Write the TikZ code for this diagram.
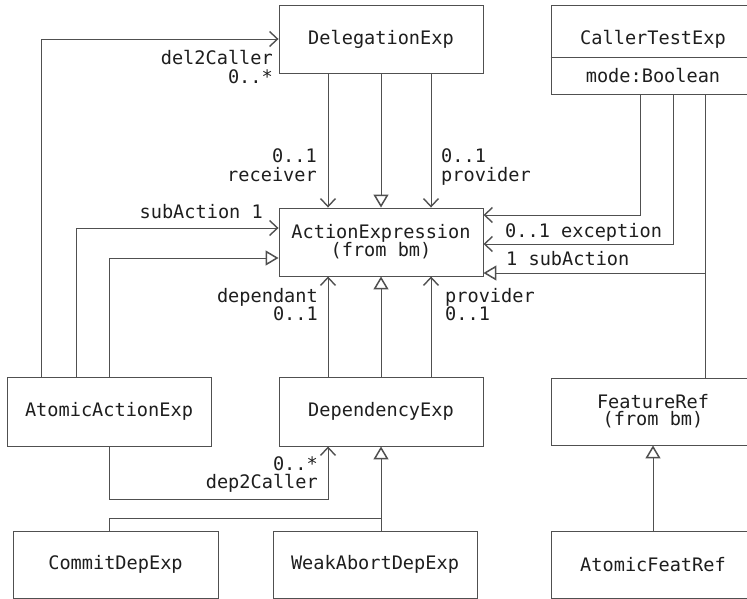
\documentclass[tikz,border=0pt]{standalone}
\usepackage{fontspec}
\setmonofont{DejaVu Sans Mono}
\usetikzlibrary{arrows.meta}
\definecolor{linec}{HTML}{505050}
\definecolor{textc}{HTML}{1E1E1E}
\newcommand{\umlfont}{\ttfamily\fontsize{18.6}{18}\selectfont}

\begin{document}
\begin{tikzpicture}[x=1pt,y=-1pt,
  cls/.style={draw=linec, line width=0.9pt, minimum width=204pt,
    minimum height=68pt, inner sep=0pt, align=center, text=textc,
    font=\umlfont},
  conn/.style={draw=linec, line width=0.9pt},
  assoc/.style={conn, -{Straight Barb[length=8pt,width=15pt,line width=1.4pt]}},
  gen/.style={conn, -{Triangle[open,length=13pt,width=15pt,line width=1.5pt]}},
  lbl/.style={inner sep=0pt, text=textc, font=\umlfont}]
\useasboundingbox (0,0) rectangle (747,599);

% classes
\node[cls] (del) at (381,39) {DelegationExp};
\node[cls, minimum height=89pt] (caller) at (653,49.5) {};
\draw[conn] (caller.west |- 0,57) -- (caller.east |- 0,57);
\node[lbl, anchor=base] (callername) at (653,45) {CallerTestExp};
\node[lbl, anchor=base] (callerattr) at (653,83) {mode:Boolean};
\node[cls] (act) at (381,242) {ActionExpression\\[-1pt](from bm)};
\node[cls, minimum height=69pt] (aae) at (109,411.5) {AtomicActionExp};
\node[cls, minimum height=69pt] (dep) at (381,411.5) {DependencyExp};
\node[cls, minimum height=67pt] (feat) at (653,411.5) {FeatureRef\\[-1pt](from bm)};
\node[cls, minimum width=205pt, minimum height=67.5pt] (commit) at (115.5,564.75) {CommitDepExp};
\node[cls, minimum height=67.5pt] (weak) at (375,564.75) {WeakAbortDepExp};
\node[cls, minimum height=67.5pt] (afr) at (653,564.75) {AtomicFeatRef};

% DelegationExp to ActionExpression
\draw[assoc] (del.south -| 328,0) -- (act.north -| 328,0);
\draw[gen] (del.south) -- (act.north);
\draw[assoc] (del.south -| 431,0) -- (act.north -| 431,0);
\node[lbl, anchor=base east] (l1a) at (317,163) {0..1};
\node[lbl, anchor=base east] (l1b) at (317,182) {receiver};
\node[lbl, anchor=base west] (l2a) at (441,163) {0..1};
\node[lbl, anchor=base west] (l2b) at (441,182) {provider};

% AtomicActionExp links
\draw[assoc] (aae.north -| 41,0) |- (del.west);
\node[lbl, anchor=base east] (l3a) at (273,65) {del2Caller};
\node[lbl, anchor=base east] (l3b) at (273,84) {0..*};
\draw[assoc] (aae.north -| 76,0) |- (act.west |- 0,228);
\node[lbl, anchor=base east] (l4) at (263,218) {subAction 1};
\draw[gen] (aae.north) |- (act.west |- 0,258);
\draw[assoc] (aae.south) |- (328,499) -- (dep.south -| 328,0);
\node[lbl, anchor=base east] (l5a) at (318,470) {0..*};
\node[lbl, anchor=base east] (l5b) at (318,488) {dep2Caller};

% DependencyExp to ActionExpression
\draw[assoc] (dep.north -| 328,0) -- (act.south -| 328,0);
\draw[gen] (dep.north) -- (act.south);
\draw[assoc] (dep.north -| 431,0) -- (act.south -| 431,0);
\node[lbl, anchor=base east] (l6a) at (318,302) {dependant};
\node[lbl, anchor=base east] (l6b) at (318,320) {0..1};
\node[lbl, anchor=base west] (l7a) at (445,302) {provider};
\node[lbl, anchor=base west] (l7b) at (445,320) {0..1};

% subclasses of DependencyExp
\draw[gen] (weak.north -| dep.south) -- (dep.south);
\draw[conn] (commit.north -| 109,0) |- (381,518);

% CallerTestExp links
\draw[assoc] (caller.south -| 640,0) |- (act.east |- 0,215);
\draw[assoc] (caller.south -| 673,0) |- (act.east |- 0,244);
\node[lbl, anchor=base west] (l8) at (505,237) {0..1 exception};
\draw[conn] (caller.south -| 705,0) -- (feat.north -| 705,0);
\coordinate (branch) at (705,273);
\draw[gen] (branch) -- (act.east |- branch);
\node[lbl, anchor=base west] (l9) at (506,265) {1 subAction};

% FeatureRef hierarchy
\draw[gen] (afr.north) -- (feat.south);
\end{tikzpicture}
\end{document}
